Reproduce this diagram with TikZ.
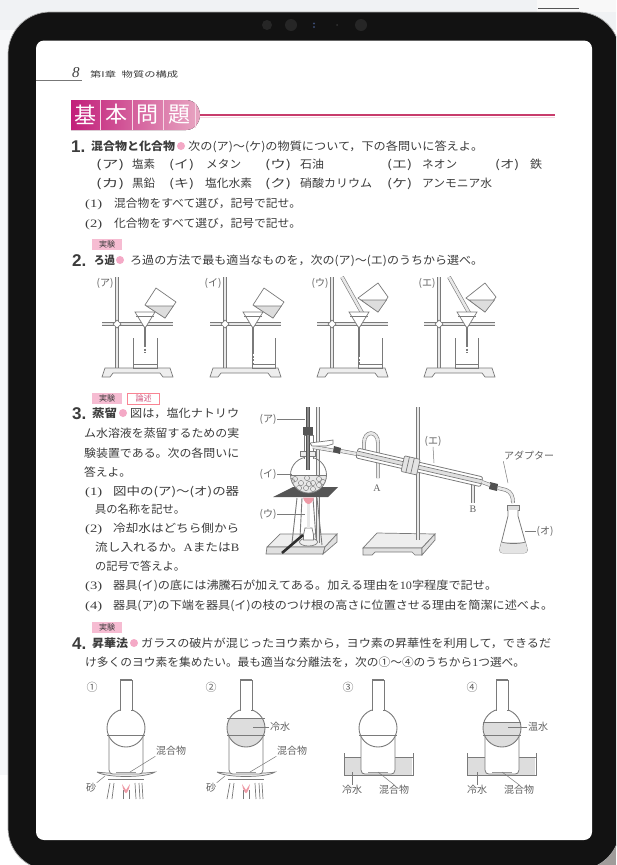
\documentclass[tikz,border=0pt]{standalone}
\usepackage{fontspec}
\usepackage{graphicx}
\newfontfamily\jp{Noto Sans CJK JP}
\newfontfamily\lat{Liberation Serif}
\newfontfamily\hel{Liberation Sans}
\definecolor{ink}{HTML}{3C3C3C}
\definecolor{fig}{HTML}{7A7A7A}
\definecolor{bez}{HTML}{121212}
\definecolor{wat}{HTML}{DDDDDD}
\definecolor{tagp}{HTML}{F6BCD2}
\definecolor{dotp}{HTML}{F4A9C6}
\definecolor{bgtop}{HTML}{F0F2F4}
\definecolor{bgl}{HTML}{F6F7F9}
\definecolor{bgr}{HTML}{F8F8F8}
\definecolor{markc}{HTML}{555555}
\definecolor{cornr}{HTML}{A09C9A}
\definecolor{edgec}{HTML}{AAAAAA}
\definecolor{cam}{HTML}{262626}
\definecolor{camb}{HTML}{3A4A70}
\definecolor{camc}{HTML}{333333}
\definecolor{hdl}{HTML}{777777}
\definecolor{lnsh}{HTML}{F4D5E0}
\definecolor{lnm}{HTML}{C83C6C}
\definecolor{banl}{HTML}{C21F7A}
\definecolor{banr}{HTML}{E8A6C2}
\definecolor{banc}{HTML}{F6D7E4}
\definecolor{rons}{HTML}{D0507A}
\definecolor{gA}{HTML}{EEEEEE}
\definecolor{gB}{HTML}{E0E0E0}
\definecolor{gC}{HTML}{E8E8E8}
\definecolor{gD}{HTML}{8A8A8A}
\definecolor{gE}{HTML}{E4E4E4}
\definecolor{gF}{HTML}{505050}
\definecolor{gG}{HTML}{2F2F2F}
\definecolor{gH}{HTML}{999999}
\definecolor{flm}{HTML}{EE9AA6}
\newcounter{nn}
\tikzset{
  txt/.style={anchor=base west,inner sep=0pt,text=ink,yshift=-4pt,font=\jp\fontsize{11.3}{12}\selectfont},
  btxt/.style={txt,font=\jp\bfseries\fontsize{11.3}{12}\selectfont},
  numtxt/.style={txt,yshift=-2pt,font=\hel\bfseries\fontsize{17}{18}\selectfont},
  lab/.style={inner sep=0.5pt,text=fig!80!black,font=\jp\fontsize{10}{11}\selectfont},
  tagbox/.style={fill=tagp,inner sep=0pt,minimum width=30pt,minimum height=11pt,text=ink,font=\jp\fontsize{8}{9}\selectfont},
  ln/.style={draw=fig,line width=0.7pt},
  tube/.style={draw=fig,line width=0.6pt,double=gC,double distance=2.6pt},
  lead/.style={draw=fig,line width=0.5pt},
  liq/.style={fill=wat,draw=fig,line width=0.6pt}
}
\newcommand{\tx}[4]{\stepcounter{nn}\node[txt,name=t\arabic{nn}] at (#1,#2) {\resizebox{#3pt}{\height}{#4}};}
\newcommand{\bx}[4]{\stepcounter{nn}\node[btxt,name=t\arabic{nn}] at (#1,#2) {\resizebox{#3pt}{\height}{#4}};}
\newcommand{\nm}[3]{\stepcounter{nn}\node[numtxt,name=t\arabic{nn}] at (#1,#2) {#3};}
\newcommand{\pdot}[2]{\fill[dotp] (#1,#2) circle (4);}
\newcommand{\leadto}[3]{\coordinate (e) at (#2,#3); \draw[lead] (#1) -- (e);}
% filtration stand
\newcommand{\filtbase}[3]{\begin{scope}[xshift=#1pt]
  \draw[tube] (117,277) -- (117,368);
  \draw[tube] (102,324) -- (173,324);
  \draw[ln,fill=white] (117,320) -- (121,324) -- (117,328) -- (113,324) -- cycle;
  \draw[ln,fill=gA] (102,377) -- (105,368) -- (170,368) -- (173,377) -- (163,377) -- (160,373) -- (113,373) -- (110,377) -- cycle;
  \node[lab,name=#2] at (105,283) {#3};
\end{scope}}
\newcommand{\filtfun}[3]{%
  \draw[ln,fill=white] (#1-10,312) -- (#1+10,312) -- (#1+0.8,327) -- (#1-0.8,327) -- cycle;
  \draw[ln] (#1-9,316) -- (#1+9,316);
  \draw[ln,line width=1.1pt] (#1,327) -- (#1,#2);
  \draw[ln,line width=1.1pt,dash pattern=on 2pt off 1.5pt] (#1,#2) -- (#1,#3);}
\newcommand{\filtbeak}[3]{%
  \draw[ln] (#1,#3) -- (#1,368) -- (#2,368) -- (#2,#3);
  \draw[ln] (#1,364) -- (#2,364);}
% sublimation flask
\newcommand{\bulbneck}[1]{%
  \draw[ln,line width=0.9pt] (#1,728) circle (19);
  \draw[ln,line width=0.9pt,fill=white] (#1-6,680) -- (#1-6,710) -- (#1+6,710) -- (#1+6,680) -- cycle;
  \draw[white,line width=1.2pt] (#1-5.4,710.2) -- (#1+5.4,710.2);
  \draw[ln,line width=1.2pt] (#1-6,680) -- (#1+6,680);
}
\newcommand{\bulbdry}[1]{%
  \fill[white] (#1,728) circle (19);
  \bulbneck{#1}
  \draw[ln,line width=0.9pt] (#1-19,735) -- (#1+19,735);
}
\newcommand{\bulbwet}[2]{% cx, water top
  \fill[white] (#1,728) circle (19);
  \begin{scope}
    \clip (#1,728) circle (19);
    \fill[wat] (#1-20,#2) rectangle (#1+20,748);
  \end{scope}
  \bulbneck{#1}
  \draw[ln,line width=0.8pt] (#1-19,#2) -- (#1+19,#2);
  \draw[ln,line width=0.9pt] (#1-19,735) -- (#1+19,735);
}
\newcommand{\cyl}[1]{%
  \draw[ln,line width=0.8pt,fill=white] (#1-17,735) -- (#1-17,770) .. controls (#1-17,773) and (#1-15,774) .. (#1-13,774) -- (#1+13,774) .. controls (#1+15,774) and (#1+17,773) .. (#1+17,770) -- (#1+17,735);
}
\newcommand{\burn}[1]{%
  \draw[ln,fill=gA] (#1-29,772) .. controls (#1-20,778) and (#1+20,778) .. (#1+29,772) .. controls (#1+15,774) and (#1-15,774) .. (#1-29,772);
  \draw[ln,line width=1pt] (#1-18,779) -- (#1+18,779);
  \draw[ln] (#1-16,783) -- (#1-19,799) (#1-12,783) -- (#1-14,799);
  \draw[ln] (#1+9,783) -- (#1+10,799) (#1+13,783) -- (#1+14,799) (#1+16,783) -- (#1+17,799);
  \draw[ln] (#1-3,799) -- (#1-3,790) (#1+3,799) -- (#1+3,790);
  \fill[flm] (#1-4,784) .. controls (#1-3,790) and (#1-1,793) .. (#1,793) .. controls (#1+1,793) and (#1+3,790) .. (#1+4,784) -- (#1,790) -- cycle;
}
\newcommand{\bath}[1]{%
  \fill[wat] (#1+1,757) rectangle (#1+68,775);
  \draw[ln,line width=0.8pt] (#1,753) -- (#1,775) -- (#1+69,775) -- (#1+69,753);
  \draw[ln] (#1,757) -- (#1+69,757);
}
\begin{document}
\begin{tikzpicture}[x=1pt,y=-1pt]
\useasboundingbox (0,0) rectangle (616,865);
% surroundings
\fill[white] (0,0) rectangle (616,865);
\fill[bgtop] (0,0) rectangle (616,30);
\fill[bgl] (0,30) rectangle (10,775);
\fill[bgr] (537,0) rectangle (616,12);
\draw[markc,line width=1pt] (538,8.5) -- (579,8.5);
\fill[cornr] (580,830) rectangle (616,865);
% device
\begin{scope}
\clip (0,0) rectangle (616,865);
\fill[bez,rounded corners=42pt] (8,12) rectangle (620,870);
\draw[edgec,line width=0.7pt,rounded corners=42pt] (8,12) rectangle (620,870);
\end{scope}
\fill[white,rounded corners=8pt] (36,40.5) rectangle (592,840);
\fill[cam] (267,25) circle (5) (291,25) circle (6) (361,25) circle (6);
\fill[camb] (314,23.5) circle (1.2) (314,27) circle (1.2);
\fill[camc] (337,25) circle (1);
% header
\node[anchor=base west,inner sep=0pt,text=ink,name=pg,font=\lat\itshape\fontsize{15}{16}\selectfont] at (72,77) {8};
\tx{90}{73}{88}{\fontsize{8}{9}\selectfont 第I章\enspace 物質の構成}
\draw[hdl,line width=0.9pt] (36,80) -- (82,80);
% banner
\draw[lnsh,line width=1.5pt] (195,117.5) -- (555,117.5);
\draw[lnm,line width=1.2pt] (195,115) -- (555,115);
\fill[left color=banl,right color=banr] (71,100) -- (186,100) .. controls (196,100) and (200,109) .. (200,115) .. controls (200,122) and (195,130) .. (186,130) -- (71,130) -- cycle;
\draw[banc,line width=0.6pt] (100,100) -- (100,130) (132,100) -- (132,130) (163,100) -- (163,130) (195,103) -- (195,128);
\foreach \cx/\ch/\nn in {85.5/基/ba,116/本/bb,147.5/問/bc,179/題/bd}
  \node[name=\nn,text=white,inner sep=0pt,font=\jp\fontsize{22}{24}\selectfont] at (\cx,114.5) {\ch};
% problem 1
\nm{71}{146}{1.}
\bx{91}{146}{84}{混合物と化合物}
\pdot{181}{146}
\tx{188}{146}{295}{次の(ア)〜(ケ)の物質について，下の各問いに答えよ。}
\tx{96}{164}{28}{(ア)}\tx{132}{164}{23}{塩素}\tx{169}{164}{25}{(イ)}\tx{206}{164}{35}{メタン}\tx{265}{164}{26}{(ウ)}\tx{300}{164}{24}{石油}\tx{387}{164}{25}{(エ)}\tx{422}{164}{35}{ネオン}\tx{495}{164}{24}{(オ)}\tx{530}{164}{12}{鉄}
\tx{96}{183}{28}{(カ)}\tx{132}{183}{23}{黒鉛}\tx{169}{183}{25}{(キ)}\tx{205}{183}{47}{塩化水素}\tx{265}{183}{26}{(ク)}\tx{300}{183}{72}{硝酸カリウム}\tx{387}{183}{25}{(ケ)}\tx{422}{183}{70}{アンモニア水}
\tx{85}{203}{17}{{\lat (1)}}\tx{114}{203}{187}{混合物をすべて選び，記号で記せ。}
\tx{85}{223}{17}{{\lat (2)}}\tx{114}{223}{187}{化合物をすべて選び，記号で記せ。}
% problem 2
\node[tagbox,name=tag2] at (107,244.5) {実験};
\nm{72}{260}{2.}
\bx{94}{260}{21}{ろ過}
\pdot{120}{260}
\tx{130}{260}{353}{ろ過の方法で最も適当なものを，次の(ア)〜(エ)のうちから選べ。}
% filtration figures
\filtbase{0}{fa}{(ア)}\filtbase{108}{fb}{(イ)}\filtbase{215}{fc}{(ウ)}\filtbase{322}{fd}{(エ)}
\draw[tube] (342,277) -- (365,318);
\draw[tube] (449,277) -- (472,318);
\filtbeak{133}{157}{338}\filtbeak{252}{275}{338}\filtbeak{358}{382}{338}\filtbeak{455}{478}{338}
\filtfun{145}{345}{353}\filtfun{253}{352}{363}\filtfun{359}{355}{365}\filtfun{467}{345}{353}
\draw[ln,fill=white] (156,288) -- (176,302) -- (165,318) -- (145,305) -- cycle;
\draw[liq] (146.5,306) -- (173.3,306) -- (165,318) -- cycle;
\draw[ln,fill=white] (264,288) -- (284,302) -- (273,318) -- (253,305) -- cycle;
\draw[liq] (254.5,306) -- (281.3,306) -- (273,318) -- cycle;
\draw[ln,fill=white] (378,283) -- (388,297) -- (378,312) -- (358,298) -- cycle;
\draw[liq] (361,300) -- (386.5,300) -- (378,312) -- cycle;
\draw[ln,fill=white] (485,283) -- (496,297) -- (485,312) -- (466,298) -- cycle;
\draw[liq] (469,300) -- (494.5,300) -- (485,312) -- cycle;
% problem 3
\node[tagbox,name=tag3] at (107,398.5) {実験};
\node[tagbox,name=tag3b,fill=white,draw=tagp!70!red,minimum width=32pt,line width=0.7pt] at (143.5,398.5) {\textcolor{rons}{論述}};
\nm{72}{413}{3.}
\bx{92}{413}{25}{蒸留}
\pdot{123}{413}
\tx{130}{413}{109}{図は，塩化ナトリウ}
\tx{84}{433}{155}{ム水溶液を蒸留するための実}
\tx{84}{453}{155}{験装置である。次の各問いに}
\tx{84}{472}{47}{答えよ。}
\tx{85}{491}{17}{{\lat (1)}}\tx{113}{491}{126}{図中の(ア)〜(オ)の器}
\tx{95}{509}{90}{具の名称を記せ。}
\tx{85}{528}{17}{{\lat (2)}}\tx{113}{528}{126}{冷却水はどちら側から}
\tx{95}{547}{144}{流し入れるか。{\lat A}または{\lat B}}
\tx{95}{566}{90}{の記号で答えよ。}
% distillation: left stand
\draw[ln,fill=gA] (267,547) -- (280,534) -- (337,534) -- (325,547) -- cycle;
\draw[ln,fill=gB] (267,547) -- (266,554) -- (323,554) -- (325,547) -- cycle;
\draw[ln,fill=gB] (325,547) -- (337,534) -- (337,542) -- (323,554) -- cycle;
\draw[tube] (318,407) -- (318,543);
\draw[ln,line width=0.9pt] (297,498) -- (292,543) (302,498) -- (300,538) (317,498) -- (322,545) (313,498) -- (316,538);
\fill[markc] (273,497) -- (293,487) -- (338,487) -- (328,497) -- cycle;
\draw[ln,fill=gA] (308.5,542) ellipse (9 and 4);
\draw[ln,fill=white] (303.5,535) -- (305,528) -- (312,528) -- (313.5,535) -- (313.5,540) -- (303.5,540) -- cycle;
\draw[tube] (308.5,503) -- (308.5,528);
\fill[flm] (303,497.5) .. controls (304,502) and (307,504) .. (308.5,504) .. controls (310,504) and (313,502) .. (314,497.5) -- cycle;
\draw[gG,line width=2.6pt] (282,553) -- (303,535);
% flask
\begin{scope}
  \clip (308.5,475) circle (18);
  \fill[gC] (285,475) rectangle (330,495);
  \foreach \a/\b in {295/479,301/483,307/478,313/483,319/479,299/488,306/488,313/489,319/485,309/484,292/481,323/482}
    \draw[gD,line width=0.5pt] (\a,\b) circle (2.6);
\end{scope}
\draw[ln,line width=0.8pt] (308.5,475) circle (18);
\draw[ln] (290.5,475) -- (326.5,475);
\draw[ln,fill=white] (304.5,435) -- (304.5,458) -- (313,458) -- (313,435) -- cycle;
\draw[white,line width=1.2pt] (305,458) -- (312.5,458);
\draw[ln,fill=gA] (300,451) -- (315,451) -- (315,456) -- (300,456) -- cycle;
\draw[draw=gF,line width=0.6pt,double=gD,double distance=2.2pt] (308,407) -- (308,470);
\fill[markc] (303,427) rectangle (313,435);
% arm and clamps
\draw[tube] (313,447) -- (336,451);
\draw[ln,fill=white] (310,443) -- (326,441) -- (333,440) -- (333,444) -- (326,446) -- (312,446) -- cycle;
\fill[gF] (334,446) -- (341,448) -- (340,454) -- (333,452) -- cycle;
\draw[tube] (341,451) -- (357,454);
% water tubes (behind condenser)
\draw[tube] (364,452) -- (364,443) .. controls (364,430) and (378,430) .. (378,443) -- (378,478);
\draw[tube] (473,485) -- (473,503);
% right stand (behind clamp)
\draw[ln,fill=gA] (363,548) -- (377,533) -- (435,534) -- (422,548) -- cycle;
\draw[ln,fill=gB] (363,548) -- (363,555) -- (372,555) -- (375,552) -- (412,552) -- (415,555) -- (422,555) -- (422,548) -- cycle;
\draw[ln,fill=gB] (422,548) -- (435,534) -- (435,540) -- (422,555) -- cycle;
\draw[tube] (418,407) -- (418,540);
% condenser
\begin{scope}[shift={(357,453)},rotate=-13]
  \draw[ln,line width=0.8pt,fill=white,rounded corners=2pt] (0,-5) rectangle (128,5);
  \fill[gB] (0,-1.7) rectangle (128,1.7);
  \draw[ln] (0,-2) -- (128,-2) (0,2) -- (128,2);
  \draw[ln,fill=gE,rounded corners=1pt] (47,-8) rectangle (63,8);
  \draw[ln] (52,-8) -- (52,8) (57,-8) -- (57,8);
\end{scope}
\node[lab,name=lA,font=\lat\fontsize{10}{11}\selectfont] at (377,488) {A};
\node[lab,name=lB,font=\lat\fontsize{10}{11}\selectfont] at (473,509) {B};
% adapter and receiver
\fill[gF] (490,482) -- (498,484) -- (497,491) -- (489,489) -- cycle;
\draw[tube] (482,482) -- (490,485);
\draw[tube] (498,488) -- (506,490) .. controls (511,492) and (513,496) .. (513,503);
\draw[ln,fill=wat] (507,505) rectangle (519,510);
\draw[ln,line width=0.8pt,fill=white] (508,510) -- (508,516) -- (500,548) .. controls (499,552) and (501,553) .. (504,553) -- (523,553) .. controls (526,553) and (528,552) .. (527,548) -- (518,516) -- (518,510);
\begin{scope}
  \clip (508,510) -- (508,516) -- (500,548) .. controls (499,552) and (501,553) .. (504,553) -- (523,553) .. controls (526,553) and (528,552) .. (527,548) -- (518,516) -- (518,510) -- cycle;
  \fill[gE] (497,542) rectangle (530,556);
\end{scope}
\draw[ln] (501.5,542) .. controls (507,544) and (520,544) .. (525.5,542);
% labels of distillation
\node[lab,name=lp] at (268,419) {(ア)};
\node[lab,name=lq] at (268,474) {(イ)};
\node[lab,name=lr] at (268,514) {(ウ)};
\node[lab,name=ls] at (433,441) {(エ)};
\node[lab,name=lt] at (529,456) {アダプター};
\node[lab,name=lu] at (545,531) {(オ)};
\leadto{lp.east}{305}{419}
\leadto{lq.east}{292}{474}
\leadto{lr.east}{305}{514}
\leadto{ls.south}{434}{463}
\leadto{lt.south west}{508}{483}
\leadto{lu.west}{525}{531}
% rows 3,4 and problem 4
\tx{85}{585}{17}{{\lat (3)}}\tx{113}{585}{384}{器具(イ)の底には沸騰石が加えてある。加える理由を{\lat 10}字程度で記せ。}
\tx{85}{605}{17}{{\lat (4)}}\tx{113}{605}{440}{器具(ア)の下端を器具(イ)の枝のつけ根の高さに位置させる理由を簡潔に述べよ。}
\node[tagbox,name=tag4] at (107,627) {実験};
\nm{72}{643}{4.}
\bx{92}{643}{36}{昇華法}
\pdot{134}{643}
\tx{141}{643}{410}{ガラスの破片が混じったヨウ素から，ヨウ素の昇華性を利用して，できるだ}
\tx{85}{662}{440}{け多くのヨウ素を集めたい。最も適当な分離法を，次の①〜④のうちから{\lat 1}つ選べ。}
% sublimation figures
\node[lab,name=c1,font=\jp\fontsize{11}{12}\selectfont] at (92,687) {①};
\node[lab,name=c2,font=\jp\fontsize{11}{12}\selectfont] at (211,687) {②};
\node[lab,name=c3,font=\jp\fontsize{11}{12}\selectfont] at (348,687) {③};
\node[lab,name=c4,font=\jp\fontsize{11}{12}\selectfont] at (472,687) {④};
% 1
\burn{126}\cyl{126}\bulbdry{126}
% 2
\burn{246}\cyl{246}\bulbwet{246}{718}
% 3
\bath{344}\cyl{378}\bulbdry{378}
% 4
\bath{467}\cyl{502}\bulbwet{502}{722}
\draw[gH,line width=1pt] (368,772.5) -- (388,772.5) (492,772.5) -- (512,772.5) (116,772.5) -- (136,772.5) (236,772.5) -- (256,772.5);
% labels
\node[lab,name=m1] at (171,751) {混合物};
\node[lab,name=s1] at (91,788) {砂};
\leadto{m1.south west}{130}{772}
\leadto{s1.north east}{105}{776}
\node[lab,name=k2] at (280,727) {冷水};
\node[lab,name=m2] at (292,751) {混合物};
\node[lab,name=s2] at (211,788) {砂};
\leadto{k2.west}{253}{727}
\leadto{m2.south west}{250}{772}
\leadto{s2.north east}{225}{776}
\node[lab,name=k3] at (352,790) {冷水};
\node[lab,name=m3] at (394,790) {混合物};
\leadto{k3.north}{352}{772}
\leadto{m3.north}{378}{772}
\node[lab,name=o4] at (538,727) {温水};
\node[lab,name=k4] at (477,790) {冷水};
\node[lab,name=m4] at (519,790) {混合物};
\leadto{o4.west}{508}{727}
\leadto{k4.north}{477}{772}
\leadto{m4.north}{502}{772}
\end{tikzpicture}
\end{document}
